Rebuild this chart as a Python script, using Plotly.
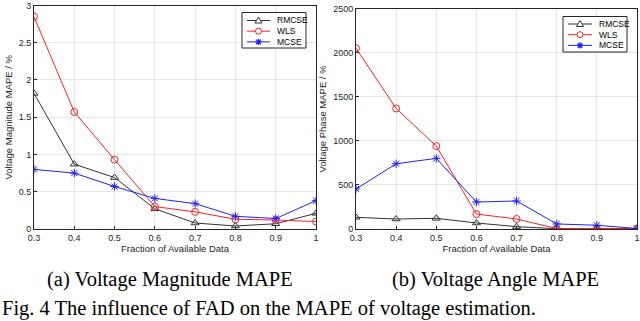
import plotly.graph_objects as go
from plotly.subplots import make_subplots

# fraction of available data
fad = [0.3, 0.4, 0.5, 0.6, 0.7, 0.8, 0.9, 1.0]

# (a) voltage magnitude MAPE / %
mag_rmcse = [1.82, 0.87, 0.69, 0.27, 0.08, 0.04, 0.07, 0.21]
mag_wls = [2.85, 1.57, 0.93, 0.30, 0.23, 0.13, 0.12, 0.10]
mag_mcse = [0.80, 0.75, 0.57, 0.41, 0.34, 0.17, 0.14, 0.38]

# (b) voltage angle MAPE / %
ang_rmcse = [132, 113, 121, 68, 26, 3, 4, 5]
ang_wls = [2054, 1369, 942, 170, 113, 5, 5, 3]
ang_mcse = [454, 741, 802, 306, 318, 57, 42, 5]

x_ticks = [0.3, 0.4, 0.5, 0.6, 0.7, 0.8, 0.9, 1]
x_tick_text = ["0.3", "0.4", "0.5", "0.6", "0.7", "0.8", "0.9", "1"]

names = ["RMCSE", "WLS", "MCSE"]
colors = ["#333333", "#ff2020", "#2020ff"]
symbols = ["triangle-up-open", "circle-open", "asterisk-open"]

W, H = 640, 321


def px(X):
    return X / W


def py(Y):
    return 1 - Y / H


fig = make_subplots(rows=1, cols=2)

for col, data in [(1, [mag_rmcse, mag_wls, mag_mcse]), (2, [ang_rmcse, ang_wls, ang_mcse])]:
    for name, color, sym, y in zip(names, colors, symbols, data):
        fig.add_trace(go.Scatter(
            x=fad, y=y, name=name, mode="lines+markers", showlegend=False,
            line=dict(color=color, width=1),
            marker=dict(symbol=sym, size=7, color=color, line=dict(color=color, width=1)),
        ), row=1, col=col)

axis_style = dict(
    showline=True, linecolor="#262626", linewidth=1, mirror=True,
    showgrid=True, gridcolor="#e6e6e6", gridwidth=1,
    ticks="inside", ticklen=3, tickcolor="#262626",
    tickfont=dict(family="Liberation Sans", size=9, color="#262626"),
    zeroline=False, automargin=False,
)
title_font = dict(family="Liberation Sans", size=9.5, color="#262626")

for col in (1, 2):
    fig.update_xaxes(axis_style, range=[0.3, 1], tickvals=x_ticks, ticktext=x_tick_text,
                     title=dict(text="Fraction of Available Data", standoff=2, font=title_font),
                     row=1, col=col)

fig.update_yaxes(axis_style, range=[-0.0005, 3], tickvals=[0, 0.5, 1, 1.5, 2, 2.5, 3],
                 ticktext=["0", "0.5", "1", "1.5", "2", "2.5", "3"],
                 title=dict(text="Voltage Magnitude MAPE / %", standoff=4, font=title_font),
                 row=1, col=1)
fig.update_yaxes(axis_style, range=[-0.5, 2500], tickvals=[0, 500, 1000, 1500, 2000, 2500],
                 ticktext=["0", "500", "1000", "1500", "2000", "2500"],
                 title=dict(text="Voltage Phase MAPE / %", standoff=4, font=title_font),
                 row=1, col=2)

fig.update_layout(
    xaxis=dict(domain=[px(34), px(316)]),
    xaxis2=dict(domain=[px(356), px(637)]),
    yaxis=dict(domain=[py(229), py(5.5)]),
    yaxis2=dict(domain=[py(229), py(9)]),
)

# legend boxes, drawn like the MATLAB ones
shapes = []
annotations = []
legend_boxes = [
    # box left, top, right, bottom, first row y, row step, line x0, x1, text x
    (242, 12.5, 306, 48, 20.5, 10.7, 247, 270, 275),
    (563, 16.5, 627, 52, 24, 10.7, 568, 592, 597),
]
for (bx0, by0, bx1, by1, ry, step, lx0, lx1, tx) in legend_boxes:
    shapes.append(dict(type="rect", xref="paper", yref="paper",
                       x0=px(bx0), x1=px(bx1), y0=py(by1), y1=py(by0),
                       line=dict(color="#262626", width=1), fillcolor="white", layer="above"))
    for i, (name, color) in enumerate(zip(names, colors)):
        y = ry + i * step
        cx = (lx0 + lx1) / 2
        shapes.append(dict(type="line", xref="paper", yref="paper",
                           x0=px(lx0), x1=px(lx1), y0=py(y), y1=py(y),
                           line=dict(color=color, width=1), layer="above"))
        if i == 0:
            path = "M {},{} L {},{} L {},{} Z".format(
                px(cx - 3.5), py(y + 2.5), px(cx + 3.5), py(y + 2.5), px(cx), py(y - 3.5))
            shapes.append(dict(type="path", xref="paper", yref="paper", path=path,
                               line=dict(color=color, width=1), fillcolor="white", layer="above"))
        elif i == 1:
            shapes.append(dict(type="circle", xref="paper", yref="paper",
                               x0=px(cx - 3), x1=px(cx + 3), y0=py(y + 3), y1=py(y - 3),
                               line=dict(color=color, width=1), fillcolor="white", layer="above"))
        else:
            r = 3.2
            d = 2.3
            path = ("M {},{} L {},{} M {},{} L {},{} M {},{} L {},{} M {},{} L {},{}").format(
                px(cx - r), py(y), px(cx + r), py(y),
                px(cx), py(y - r), px(cx), py(y + r),
                px(cx - d), py(y - d), px(cx + d), py(y + d),
                px(cx - d), py(y + d), px(cx + d), py(y - d))
            shapes.append(dict(type="path", xref="paper", yref="paper", path=path,
                               line=dict(color=color, width=1.3), layer="above"))
        annotations.append(dict(text=name, x=px(tx), y=py(y), xref="paper", yref="paper",
                                xanchor="left", yanchor="middle", showarrow=False,
                                font=dict(family="Liberation Sans", size=8.5, color="black")))

cap_font = dict(family="Liberation Serif", size=20.5, color="black")
annotations += [
    dict(text="(a) Voltage Magnitude MAPE", x=px(170), y=py(279), xanchor="center",
         yanchor="middle", xref="paper", yref="paper", showarrow=False, font=cap_font),
    dict(text="(b) Voltage Angle MAPE", x=px(495), y=py(279), xanchor="center",
         yanchor="middle", xref="paper", yref="paper", showarrow=False, font=cap_font),
    dict(text="Fig. 4 The influence of FAD on the MAPE of voltage estimation.",
         x=0, y=py(308), xanchor="left", yanchor="middle", xref="paper", yref="paper",
         showarrow=False, font=cap_font),
]

fig.update_layout(
    shapes=shapes, annotations=annotations,
    width=W, height=H,
    margin=dict(l=0, r=0, t=0, b=0, autoexpand=False),
    plot_bgcolor="white", paper_bgcolor="white",
)

fig.write_html("out.html", config={"displayModeBar": False},
               post_script="document.body.style.margin = '0';")
